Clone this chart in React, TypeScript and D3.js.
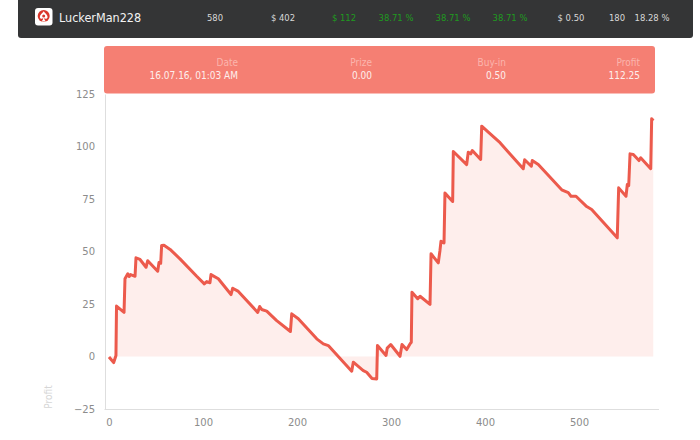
import React, {useEffect, useRef} from 'react'
import * as d3 from 'd3'

const hands = [
  0, 5, 7.4, 8, 16, 17, 20, 21.6, 23, 27.7, 28.7, 33, 39.4, 41.2, 51.8, 53.2, 55, 56, 58.5, 65, 75.5, 93.3,
  101.4, 104, 107.4, 108.5, 116.3, 129.8, 131.6, 137.6, 158.2, 160.3, 162.4, 167.8, 178.4, 193, 194.4, 201.4,
  221, 228, 233.3, 258.2, 259.9, 270.5, 274.1, 279.8, 284.8, 285.6, 294.7, 296, 299.7, 309.6, 311.7, 316.7,
  320.2, 321.6, 322.3, 328.4, 330.9, 341.5, 342.6, 350.3, 352.1, 353.2, 356.4, 357.4, 365.6, 366.3, 380.5,
  382.2, 384.8, 386.5, 395.4, 396.5, 403.5, 416, 440.7, 442.2, 449.3, 450.3, 456.7, 481.6, 488.6, 491.5,
  496.8, 508.2, 513.5, 540.7, 542.2, 550, 551.4, 552.9, 554.3, 557.8, 563.8, 565.6, 576.3, 577.3, 579,
]
const profit = [
  -0.2, -2.9, 0.5, 24, 21, 37, 39.4, 38.1, 39, 38.2, 47, 46.2, 42.5, 45.6, 40.6, 44.8, 44.4, 52.9, 53, 51, 46.5,
  38.2, 34.6, 35.7, 35.1, 39, 37, 29.5, 32.5, 31, 21, 23.8, 22.4, 21.6, 17.1, 11.9, 20.3, 18, 8.4, 6, 5.2, -7,
  -2.7, -6.7, -7.5, -10.5, -10.7, 5.2, 0.5, 4, 5.7, 0.1, 5.7, 3.3, 6, 6.8, 30.6, 27.5, 28.7, 24.8, 48.9, 44.6,
  50.5, 54.9, 54.1, 77.8, 73.8, 97.6, 91.4, 97.3, 96.5, 98.1, 93.8, 109.7, 106.8, 101.8, 89.4, 93.7, 90.6, 93.3,
  91.4, 79.4, 78, 76.3, 76.3, 71.4, 70, 56.5, 80.3, 76.3, 81.9, 81.4, 96.5, 96.2, 93.3, 94.6, 89.4, 113.2, 112.25,
]
const xTicks = [0, 100, 200, 300, 400, 500]
const yTicks = [-25, 0, 25, 50, 75, 100, 125]
const playerName = 'LuckerMan228'
const headerWhite = ['580', '$ 402']
const headerGreen = ['$ 112', '38.71 %', '38.71 %', '38.71 %']
const headerEnd = ['$ 0.50', '180', '18.28 %']
const tooltipLabels = ['Date', 'Prize', 'Buy-in', 'Profit']
const tooltipValues = ['16.07.16, 01:03 AM', '0.00', '0.50', '112.25']

const FONT = '"DejaVu Sans", sans-serif'
const NARROW = '"DejaVu Sans Condensed", "DejaVu Sans", sans-serif'

function App() {
  const ref: any = useRef<SVGSVGElement>(null)

  useEffect(() => {
    const svg = d3.select(ref.current)
    svg.selectAll('*').remove()

    const xScale = d3.scaleLinear().domain([0, 580]).range([109, 654.2])
    const yScale = d3.scaleLinear().domain([-25, 125]).range([409, 94])

    // top bar
    svg.append('path')
      .attr('d', 'M18,0H693V35a3,3 0 0 1 -3,3H21a3,3 0 0 1 -3,-3Z')
      .attr('fill', '#343536')

    const icon = svg.append('g').attr('transform', 'translate(35,8)')
    icon.append('rect').attr('width', 17.5).attr('height', 17.5).attr('rx', 3).attr('fill', '#fff')
    icon.append('circle').attr('cx', 8.7).attr('cy', 8).attr('r', 6).attr('fill', '#d9372c')
    icon.append('path')
      .attr('d', 'M8.7,3.2C10,5.5 12.6,6.6 12.6,9C12.6,11 10.2,11.3 9.2,10C9.3,11.5 9.9,12.6 11,13.4H6.4C7.5,12.6 8.1,11.5 8.2,10C7.2,11.3 4.8,11 4.8,9C4.8,6.6 7.4,5.5 8.7,3.2Z')
      .attr('fill', '#fff')
    icon.append('circle').attr('cx', 8.7).attr('cy', 8).attr('r', 1.5).attr('fill', '#d9372c')

    svg.append('text')
      .text(playerName)
      .attr('x', 59)
      .attr('y', 21.5)
      .attr('fill', '#f2f2f2')
      .attr('font-size', 12.5)
      .attr('font-family', NARROW)

    const headerCenters = [215, 283]
    headerWhite.forEach((t, i) => {
      svg.append('text').text(t)
        .attr('x', headerCenters[i]).attr('y', 20.5)
        .attr('text-anchor', 'middle').attr('fill', '#d8d8d8')
        .attr('font-size', 9.4).attr('font-family', NARROW)
    })
    const greenCenters = [344, 396, 453, 510]
    headerGreen.forEach((t, i) => {
      svg.append('text').text(t)
        .attr('x', greenCenters[i]).attr('y', 20.5)
        .attr('text-anchor', 'middle').attr('fill', '#1f9a1f')
        .attr('font-size', 9.4).attr('font-family', NARROW)
    })
    const endCenters = [571, 617, 652]
    headerEnd.forEach((t, i) => {
      svg.append('text').text(t)
        .attr('x', endCenters[i]).attr('y', 20.5)
        .attr('text-anchor', 'middle').attr('fill', '#d8d8d8')
        .attr('font-size', 9.4).attr('font-family', NARROW)
    })

    // tooltip box
    svg.append('rect')
      .attr('x', 104).attr('y', 46).attr('width', 551).attr('height', 47.5).attr('rx', 3)
      .attr('fill', '#f57f73')
    const tooltipRight = [238, 372, 506, 640]
    tooltipLabels.forEach((t, i) => {
      svg.append('text').text(t)
        .attr('x', tooltipRight[i]).attr('y', 66)
        .attr('text-anchor', 'end').attr('fill', '#fbb5ad')
        .attr('font-size', 10).attr('font-family', NARROW)
      svg.append('text').text(tooltipValues[i])
        .attr('x', tooltipRight[i]).attr('y', 79)
        .attr('text-anchor', 'end').attr('fill', '#fdeeec')
        .attr('font-size', 10).attr('font-family', NARROW)
    })

    const points = hands.map((h, i) => ({hand: h, value: profit[i]}))

    const area = d3.area<any>()
      .x(d => xScale(d.hand))
      .y0(yScale(0))
      .y1(d => yScale(d.value))
    svg.append('path')
      .attr('d', area(points))
      .attr('fill', '#feeeec')

    const line = d3.line<any>()
      .x(d => xScale(d.hand))
      .y(d => yScale(d.value))
    svg.append('path')
      .attr('d', line(points))
      .attr('fill', 'none')
      .attr('stroke', '#ec5a4c')
      .attr('stroke-width', 3)
      .attr('stroke-linejoin', 'round')

    // axes
    const xAxis = svg.append('g')
      .attr('transform', 'translate(0,409)')
      .call(d3.axisBottom(xScale).tickValues(xTicks).tickSize(0).tickPadding(10))
    xAxis.select('.domain').attr('d', 'M104.5,0.5H659').attr('stroke', '#dedede').attr('stroke-width', 1)
    const yAxis = svg.append('g')
      .attr('transform', 'translate(105,0)')
      .call(d3.axisLeft(yScale).tickValues(yTicks).tickSize(0).tickPadding(10).tickFormat(d3.format('d') as any))
    yAxis.select('.domain').attr('stroke', '#dedede').attr('stroke-width', 1)
    svg.selectAll('.tick text')
      .attr('fill', '#8c8c8c')
      .attr('font-size', 10)
      .attr('font-family', FONT)

    svg.append('text')
      .text('Profit')
      .attr('transform', 'translate(52,397) rotate(-90)')
      .attr('text-anchor', 'middle')
      .attr('fill', '#d6d6d6')
      .attr('font-size', 10)
      .attr('font-family', NARROW)
  }, [])

  return (
    <svg
      ref={ref}
      width={700}
      height={440}
      style={{position: 'absolute', left: 0, top: 0, background: '#fff'}}
    />
  )
}
export default App
